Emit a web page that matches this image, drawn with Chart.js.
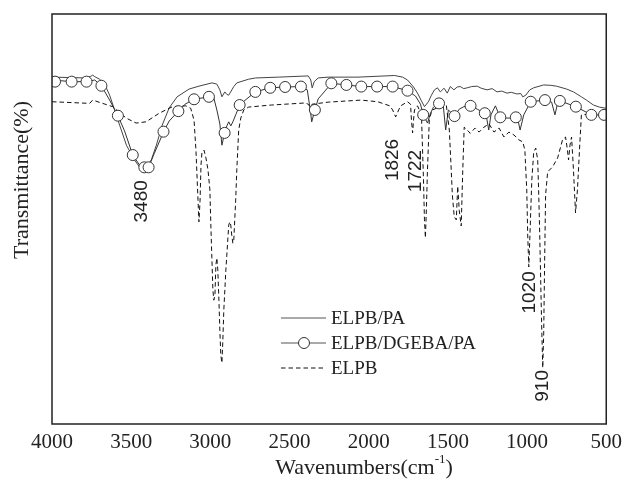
<!DOCTYPE html>
<html>
<head>
<meta charset="utf-8">
<script src="https://cdn.jsdelivr.net/npm/chart.js@4"></script>
<style>
  body { margin: 0; background: #fff; }
  #wrap { width: 628px; height: 489px; }
</style>
</head>
<body>
<div id="wrap"><canvas id="ftir" width="628" height="489"></canvas></div>
<script>
// FTIR spectra (wavenumber in cm-1, transmittance in arbitrary %)

// ELPB/PA (thin solid)
const paWn = [4000, 3887, 3787, 3755, 3743, 3730, 3699, 3668, 3636, 3605, 3573, 3530, 3479, 3442, 3410, 3373, 3341, 3304, 3260, 3210, 3134, 3072, 2990, 2959, 2940, 2927, 2909, 2896, 2884, 2852, 2833, 2758, 2714, 2570, 2382, 2366, 2357, 2344, 2319, 2256, 2068, 1836, 1786, 1755, 1717, 1692, 1667, 1648, 1623, 1604, 1585, 1566, 1548, 1524, 1504, 1485, 1462, 1441, 1422, 1400, 1378, 1350, 1315, 1290, 1253, 1220, 1190, 1160, 1127, 1100, 1065, 1040, 1027, 1008, 983, 958, 895, 850, 814, 751, 707, 657, 625, 581, 544, 500];
const paT = [84.6, 84.5, 84.4, 84.8, 85.1, 84.7, 84.1, 82.9, 80.2, 76.6, 72.9, 68.0, 64.4, 62.4, 62.4, 64.4, 68.0, 72.9, 77.1, 79.8, 81.7, 82.4, 83.2, 82.9, 81.5, 79.8, 81.0, 80.4, 80.2, 82.3, 83.2, 84.1, 84.4, 84.6, 84.9, 83.9, 82.0, 83.5, 84.4, 84.6, 84.6, 85.0, 84.6, 83.9, 82.2, 80.7, 78.8, 77.4, 78.6, 80.2, 81.5, 82.0, 81.0, 81.9, 80.7, 82.3, 81.5, 82.2, 82.3, 81.8, 82.0, 82.3, 82.4, 81.9, 81.5, 81.8, 81.0, 81.2, 80.7, 80.9, 80.5, 80.6, 79.8, 80.2, 81.5, 82.0, 82.7, 82.6, 82.4, 81.7, 81.0, 79.8, 79.0, 77.8, 77.3, 77.0];

// ELPB/DGEBA/PA (solid with circles)
const dgWn = [4000, 3876, 3782, 3730, 3688, 3636, 3584, 3542, 3490, 3448, 3417, 3390, 3354, 3296, 3260, 3202, 3160, 3103, 3009, 2978, 2959, 2940, 2927, 2910, 2896, 2884, 2871, 2858, 2840, 2815, 2789, 2716, 2622, 2528, 2428, 2388, 2369, 2360, 2340, 2319, 2281, 2236, 2141, 2047, 1947, 1849, 1755, 1705, 1673, 1656, 1629, 1610, 1591, 1556, 1529, 1514, 1497, 1458, 1428, 1399, 1357, 1315, 1267, 1255, 1242, 1228, 1200, 1169, 1121, 1071, 1055, 1044, 1021, 977, 887, 845, 824, 807, 793, 692, 594, 514, 500];
const dgT = [83.9, 83.5, 83.5, 83.9, 82.5, 79.0, 75.2, 71.5, 65.6, 63.2, 62.6, 62.6, 66.0, 71.2, 73.9, 76.3, 78.0, 79.2, 79.8, 79.5, 76.6, 73.2, 68.0, 71.0, 72.7, 73.7, 72.7, 73.7, 75.4, 77.8, 78.7, 81.0, 82.0, 82.2, 82.3, 81.5, 76.6, 73.7, 76.6, 79.3, 81.0, 83.1, 82.7, 82.3, 82.3, 82.3, 81.3, 80.0, 78.0, 75.4, 73.4, 75.8, 77.3, 78.2, 77.6, 71.7, 76.6, 75.1, 76.8, 77.4, 77.6, 76.8, 75.8, 74.6, 71.7, 75.4, 77.6, 74.8, 74.6, 74.8, 73.7, 71.7, 75.4, 78.6, 79.0, 78.5, 75.4, 78.3, 78.8, 77.4, 75.4, 75.4, 75.6];
// circle markers on that trace
const dgMarkWn = [3981, 3876, 3782, 3688, 3584, 3490, 3417, 3390, 3296, 3202, 3103, 3009, 2910, 2815, 2716, 2622, 2528, 2428, 2340, 2236, 2141, 2047, 1947, 1849, 1755, 1656, 1556, 1458, 1357, 1267, 1169, 1071, 977, 887, 793, 692, 594, 514];
const dgMarkT = [83.5, 83.5, 83.5, 82.5, 75.2, 65.6, 62.6, 62.6, 71.3, 76.3, 79.2, 79.8, 71.0, 77.8, 81.0, 82.0, 82.2, 82.3, 76.6, 83.1, 82.7, 82.3, 82.3, 82.3, 81.3, 75.4, 78.2, 75.1, 77.6, 75.8, 74.8, 74.8, 78.6, 79.0, 78.8, 77.4, 75.4, 75.4];

// ELPB (dashed)
const elWn = [4000, 3762, 3743, 3680, 3617, 3531, 3469, 3406, 3323, 3239, 3155, 3124, 3103, 3091, 3078, 3072, 3065, 3059, 3053, 3040, 3028, 3015, 3003, 2996, 2990, 2984, 2978, 2971, 2965, 2959, 2953, 2946, 2940, 2934, 2927, 2921, 2915, 2902, 2896, 2890, 2884, 2877, 2871, 2865, 2858, 2852, 2846, 2840, 2833, 2827, 2821, 2808, 2789, 2758, 2614, 2401, 2382, 2369, 2357, 2256, 2049, 1943, 1867, 1849, 1830, 1811, 1798, 1755, 1736, 1730, 1723, 1717, 1711, 1692, 1667, 1654, 1648, 1642, 1636, 1629, 1617, 1598, 1535, 1510, 1491, 1479, 1472, 1460, 1447, 1438, 1428, 1416, 1406, 1397, 1378, 1359, 1328, 1303, 1272, 1240, 1209, 1177, 1146, 1115, 1083, 1052, 1027, 1014, 1002, 996, 989, 983, 970, 958, 945, 933, 927, 920, 914, 908, 901, 895, 889, 883, 870, 839, 807, 776, 757, 745, 738, 729, 719, 707, 694, 682, 669, 657, 594, 500];
const elT = [78.6, 78.2, 79.0, 78.2, 77.4, 74.6, 73.4, 73.7, 75.8, 77.4, 77.6, 77.0, 74.1, 66.8, 54.6, 49.3, 54.6, 63.2, 66.3, 66.8, 64.9, 62.0, 57.1, 47.3, 40.0, 32.7, 30.2, 31.5, 38.8, 40.5, 37.6, 30.2, 22.9, 16.8, 14.9, 20.5, 27.8, 37.6, 41.2, 44.9, 48.5, 49.3, 48.5, 46.1, 44.1, 44.9, 49.8, 54.6, 62.0, 66.8, 71.7, 74.6, 76.6, 77.3, 77.8, 78.3, 78.0, 77.3, 78.0, 78.5, 79.0, 78.6, 77.6, 76.6, 74.9, 76.6, 77.6, 78.6, 78.0, 74.1, 71.0, 74.1, 76.6, 77.6, 75.4, 59.5, 49.8, 45.4, 52.2, 62.0, 74.6, 76.6, 77.6, 77.8, 71.7, 62.0, 56.0, 50.5, 49.8, 58.0, 52.0, 48.3, 62.0, 72.4, 71.7, 70.9, 72.2, 71.2, 72.4, 73.2, 71.2, 72.2, 70.0, 71.2, 70.5, 69.3, 68.8, 66.8, 57.1, 46.1, 38.3, 44.9, 59.5, 66.3, 67.3, 64.4, 57.1, 46.1, 35.1, 24.4, 13.7, 22.0, 40.0, 55.9, 61.5, 62.7, 64.9, 69.3, 70.0, 66.8, 64.4, 68.0, 70.0, 62.0, 51.5, 57.1, 66.8, 75.4, 75.6, 75.0];

// x axis ticks
const xTicks = [4000, 3500, 3000, 2500, 2000, 1500, 1000, 500];

// peak labels
const peakText = ['3480', '1826', '1722', '1020', '910'];
const peakWn = [3437, 1855, 1711, 992, 908];
const peakT = [54.3, 64.4, 61.7, 32.1, 9.3];

const seriesNames = ['ELPB/PA', 'ELPB/DGEBA/PA', 'ELPB'];

const toXY = (xs, ys) => xs.map((x, i) => ({ x: x, y: ys[i] }));

const serif = '"Liberation Serif", "Times New Roman", serif';
const sans = '"Liberation Sans", Arial, sans-serif';

// frame, labels, axis titles and legend drawn on top of the chart
const decorPlugin = {
    id: 'decor',
    afterDraw(chart) {
        const ctx = chart.ctx;
        const a = chart.chartArea;
        const xs = chart.scales.x, ys = chart.scales.y;
        ctx.save();

        // box
        ctx.strokeStyle = '#222';
        ctx.lineWidth = 1.5;
        ctx.strokeRect(a.left, a.top, a.right - a.left, a.bottom - a.top);

        // peak labels
        ctx.fillStyle = '#222';
        ctx.font = '19px ' + sans;
        ctx.textAlign = 'center';
        ctx.textBaseline = 'middle';
        peakText.forEach((t, i) => {
            ctx.save();
            ctx.translate(xs.getPixelForValue(peakWn[i]), ys.getPixelForValue(peakT[i]));
            ctx.rotate(-Math.PI / 2);
            ctx.fillText(t, 0, 1);
            ctx.restore();
        });

        // y title
        ctx.font = '22px ' + serif;
        ctx.save();
        ctx.translate(22, 180);
        ctx.rotate(-Math.PI / 2);
        ctx.fillText('Transmittance(%)', 0, 0);
        ctx.restore();

        // x title with superscript
        const main = 'Wavenumbers(cm';
        ctx.font = '22px ' + serif;
        const w1 = ctx.measureText(main).width;
        const w3 = ctx.measureText(')').width;
        ctx.font = '13px ' + serif;
        const w2 = ctx.measureText('-1').width;
        let x0 = 364 - (w1 + w2 + w3) / 2;
        ctx.textAlign = 'left';
        ctx.textBaseline = 'alphabetic';
        ctx.font = '22px ' + serif;
        ctx.fillText(main, x0, 474);
        ctx.font = '13px ' + serif;
        ctx.fillText('-1', x0 + w1, 463);
        ctx.font = '22px ' + serif;
        ctx.fillText(')', x0 + w1 + w2, 474);

        // legend
        const lx0 = 281, lx1 = 326, tx = 331;
        const rows = [318, 343, 368];
        ctx.lineWidth = 1;
        ctx.strokeStyle = '#555';
        ctx.setLineDash([]);
        ctx.beginPath(); ctx.moveTo(lx0, rows[0]); ctx.lineTo(lx1, rows[0]); ctx.stroke();
        ctx.beginPath(); ctx.moveTo(lx0, rows[1]); ctx.lineTo(lx1, rows[1]); ctx.stroke();
        ctx.beginPath();
        ctx.arc(304, rows[1], 5.5, 0, Math.PI * 2);
        ctx.fillStyle = '#fff';
        ctx.fill();
        ctx.strokeStyle = '#333';
        ctx.stroke();
        ctx.strokeStyle = '#111';
        ctx.setLineDash([4.5, 3]);
        ctx.beginPath(); ctx.moveTo(lx0, rows[2]); ctx.lineTo(lx1, rows[2]); ctx.stroke();
        ctx.setLineDash([]);
        ctx.fillStyle = '#222';
        ctx.font = '19px ' + serif;
        ctx.textBaseline = 'middle';
        seriesNames.forEach((n, i) => ctx.fillText(n, tx, rows[i] + 1));

        ctx.restore();
    }
};

new Chart(document.getElementById('ftir'), {
    type: 'line',
    data: {
        datasets: [{
            label: seriesNames[0],
            data: toXY(paWn, paT),
            borderColor: '#444',
            borderWidth: 1,
            pointRadius: 0,
            tension: 0,
            order: 3
        }, {
            label: seriesNames[1],
            data: toXY(dgWn, dgT),
            borderColor: '#333',
            borderWidth: 1,
            pointRadius: 0,
            tension: 0,
            order: 2
        }, {
            label: seriesNames[2],
            data: toXY(elWn, elT),
            borderColor: '#111',
            borderWidth: 1,
            borderDash: [4.5, 3],
            pointRadius: 0,
            tension: 0,
            order: 1
        }, {
            label: 'markers',
            data: toXY(dgMarkWn, dgMarkT),
            showLine: false,
            pointRadius: 5.5,
            pointBackgroundColor: '#fff',
            pointBorderColor: '#333',
            pointBorderWidth: 1,
            order: 0
        }]
    },
    options: {
        responsive: false,
        animation: false,
        devicePixelRatio: 1,
        layout: { padding: { left: 52, right: 18, top: 14, bottom: 0 } },
        plugins: {
            legend: { display: false },
            tooltip: { enabled: false }
        },
        scales: {
            x: {
                type: 'linear',
                reverse: true,
                min: 500,
                max: 4000,
                afterBuildTicks: axis => { axis.ticks = xTicks.map(v => ({ value: v })); },
                afterFit: axis => { axis.height = 65; },
                grid: { display: false, drawTicks: false },
                border: { display: false },
                ticks: {
                    padding: 6,
                    maxRotation: 0,
                    color: '#222',
                    font: { family: serif, size: 21 },
                    callback: v => String(v)
                }
            },
            y: {
                display: false,
                min: 0,
                max: 100
            }
        }
    },
    plugins: [decorPlugin]
});
</script>
</body>
</html>
